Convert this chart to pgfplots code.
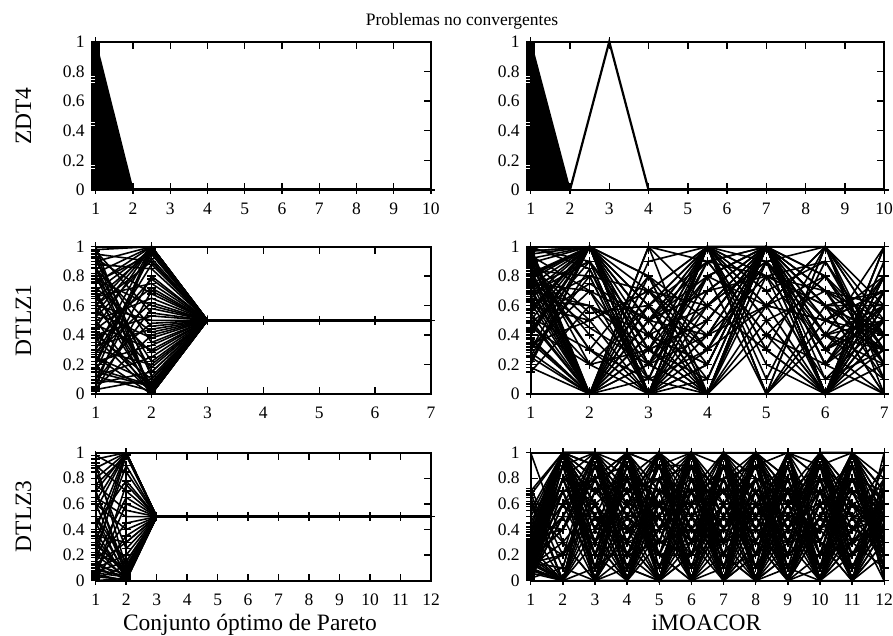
\documentclass[border=0pt]{standalone}
\usepackage{fontspec}
\setmainfont{Liberation Serif}
\usepackage{pgfplots}
\usepackage{pgfplotstable}
\pgfplotsset{compat=1.18}

% ---------- solutions, one row per solution, one column per objective ----------
% DTLZ1, Pareto-optimal set: objectives 1 and 2 (objectives 3..7 are all 0.5)
\pgfplotstableread[header=false]{
.98 1 .5
.9 1 .5
.82 1 .5
.75 1 .5
.6 1 .5
.45 1 .5
.3 1 .5
.15 1 .5
.05 1 .5
.55 .99 .5
.7 .98 .5
.2 .97 .5
1 0 .5
.93 0 .5
.85 .01 .5
.7 0 .5
.62 .02 .5
.5 0 .5
.38 .01 .5
.25 0 .5
.12 .02 .5
0 0 .5
.8 .03 .5
.42 .04 .5
.95 .9 .5
.88 .85 .5
.1 .8 .5
.35 .78 .5
.66 .75 .5
.02 .7 .5
.92 .68 .5
.5 .65 .5
.28 .62 .5
.78 .6 .5
.08 .58 .5
.97 .55 .5
.4 .53 .5
.6 .5 .5
.18 .48 .5
.85 .46 .5
.33 .44 .5
.72 .42 .5
.04 .4 .5
.55 .38 .5
.9 .35 .5
.22 .33 .5
.47 .3 .5
.65 .28 .5
.12 .25 .5
.8 .22 .5
.3 .2 .5
.58 .18 .5
.07 .15 .5
.95 .12 .5
.4 .1 .5
.25 .08 .5
.68 .06 .5
.15 .05 .5
.52 .92 .5
.27 .88 .5
.76 .95 .5
.44 .72 .5
.86 .15 .5
.6 .9 .5
.03 .1 .5
.09 .07 .5
.17 .06 .5
.22 .95 .5
.65 .97 .5
}\dtlzAopt
\pgfplotstabletranspose\dtlzAoptT\dtlzAopt

% DTLZ3, Pareto-optimal set: objectives 1 and 2 (objectives 3..12 are all 0.5)
\pgfplotstableread[header=false]{
.95 1 .5
.88 1 .5
.8 1 .5
.7 1 .5
.62 1 .5
.55 1 .5
.4 1 .5
.3 .99 .5
.2 .98 .5
.75 .98 .5
0 .02 .5
.03 .01 .5
.06 .03 .5
.1 .02 .5
.15 0 .5
.2 .03 .5
.25 .01 .5
.3 .04 .5
.38 .02 .5
.45 .05 .5
.5 .03 .5
.6 .06 .5
.7 .04 .5
.05 0 .5
.12 .05 .5
.08 .04 .5
.98 .85 .5
.9 .7 .5
.05 .6 .5
.75 .55 .5
.15 .45 .5
.6 .4 .5
.02 .35 .5
.35 .3 .5
.85 .25 .5
.1 .2 .5
.5 .15 .5
.92 .1 .5
.25 .9 .5
.45 .78 .5
.18 .65 .5
.65 .5 .5
.01 .12 .5
.7 .08 .5
.33 .05 .5
.04 .75 .5
.22 .1 .5
.13 .3 .5
.07 .15 .5
.28 .08 .5
}\dtlzCopt
\pgfplotstabletranspose\dtlzCoptT\dtlzCopt

% DTLZ1, iMOACOR (7 objectives)
\pgfplotstableread[header=false]{
1 0 .6 1 .2 0 .7
.95 1 0 .5 1 0 .3
.9 .3 .8 0 1 .6 0
.85 0 .4 1 .9 0 1
.8 1 0 .2 1 .4 .5
.75 .7 .5 1 0 1 .2
.7 0 1 .6 .3 0 .8
.65 1 .2 0 1 .5 .4
.6 .5 0 1 .6 0 1
.55 0 .7 .3 1 .2 0
.5 1 .3 .8 0 1 .6
.45 .2 0 1 .5 .7 .1
.4 1 .6 0 .8 0 .7
.35 0 .1 1 1 .3 .5
.3 .8 0 .4 1 0 .9
.25 0 .5 1 .1 .9 .3
.2 1 0 .7 1 .6 0
.15 .6 .4 0 1 0 .6
0 0 1 .9 .4 0 .4
1 .85 0 .1 1 .8 .2
.98 0 .3 1 0 .4 1
.92 1 .7 .2 1 0 .5
.88 .4 0 1 .7 .1 .3
.83 0 .8 .5 1 0 .7
.78 1 .1 0 .9 1 0
.72 0 .6 1 .5 0 .6
.68 .9 0 .3 1 .2 .8
.62 0 .2 1 .8 .6 .3
.58 1 .5 0 1 0 .4
.52 .3 0 .8 .6 1 .1
.48 0 .9 1 0 .5 .7
.42 1 0 .6 1 0 .5
.38 0 .4 .2 1 .7 .2
.32 .7 0 1 .3 0 .9
.28 0 .6 .1 1 .3 .6
.22 1 .3 0 .6 1 .4
.18 0 0 1 1 0 .8
.92 0 .5 .9 1 .2 .5
.97 1 0 0 .4 .8 .3
.87 .5 .7 1 1 0 .7
.8 0 0 .4 1 1 .4
.74 1 .8 0 .5 0 .2
.66 0 .3 1 0 .6 .6
.6 .8 0 .7 1 .3 0
.55 1 .2 0 .9 0 1
.5 0 .7 1 .6 .5 .3
.44 .9 0 .5 1 0 .7
.37 0 .4 1 .3 1 .5
.3 1 0 .2 1 .4 .2
.96 0 1 0 1 0 .6
.7 .6 .1 1 .8 .7 .4
.9 0 .5 .4 1 0 .8
.82 1 0 1 .7 .9 .3
.63 .2 .6 0 1 0 .5
.4 1 0 .8 1 .6 .7
.99 .9 .3 .5 1 .2 .6
.97 1 .4 .6 .9 .5 .7
.94 .7 .2 .8 1 .4 .3
.91 .55 .6 .3 1 .7 .5
.89 1 .5 .7 .8 .3 .6
.86 .3 .1 .9 1 .6 .4
.84 .8 .7 .4 .6 .8 .2
.81 1 .3 .1 1 .5 .8
.77 .45 .2 .6 .9 .3 .5
.73 .9 .4 .2 1 .6 .3
.69 1 .6 .9 .4 .2 .7
.64 .6 .3 .5 1 .8 .4
.57 1 .8 .3 .9 .4 .6
.49 .75 .5 .7 1 .1 .5
.43 1 .2 .4 .8 .9 .2
.34 .5 .7 .6 1 .3 .8
.26 .85 .1 .3 .6 .5 .3
.2 1 .5 .8 1 .7 .6
.93 .2 .3 0 1 .4 .1
.76 0 .2 .9 .8 .6 .4
}\dtlzAimo
\pgfplotstabletranspose\dtlzAimoT\dtlzAimo

% DTLZ3, iMOACOR (12 objectives)
\pgfplotstableread[header=false]{
.05 1 0 1 .3 1 0 .8 .2 1 0 .6
.1 1 .5 0 1 0 1 0 .7 0 1 .3
.2 .8 1 .4 0 1 .6 1 0 .5 1 0
0 1 0 1 .6 0 1 .2 1 0 .4 .8
.15 0 1 0 1 .7 0 1 .4 1 0 .5
.3 1 .2 .8 0 1 .3 0 1 .2 1 .4
.02 .6 1 0 .5 0 1 .6 0 1 .7 .2
.25 1 0 .6 1 .4 0 1 .5 0 1 .7
.08 .2 .7 1 0 1 .5 0 1 .6 0 1
.12 1 1 .2 .8 0 1 .4 0 1 .3 .1
.65 0 .4 1 0 .6 0 1 .8 0 1 .5
.04 1 0 0 1 1 .4 0 .3 1 .5 0
.18 .4 1 .7 0 .2 1 .8 0 .4 1 .6
.7 1 .3 0 .7 1 0 .3 1 0 .6 .3
.06 0 1 1 .2 0 .8 1 0 .7 0 .8
.22 1 .6 0 1 .5 0 0 .6 1 .2 .4
.01 .9 0 .5 0 1 .7 1 .1 0 1 .2
.35 1 .8 1 .4 0 1 .5 0 .8 0 .7
.1 0 .3 0 1 .8 0 1 .7 0 1 0
1 .3 0 .8 0 1 .2 0 1 .3 .8 .5
.14 1 1 0 .6 0 1 .7 0 1 0 .3
.03 .7 0 1 1 .3 0 .2 1 0 .5 .9
.28 1 .5 .3 0 1 .9 0 .4 1 1 .1
.6 0 1 0 .8 .4 0 1 0 .6 0 .6
.09 1 .1 1 0 0 .6 .9 1 0 .3 .4
.2 .5 1 .6 1 .7 0 0 .5 1 .7 .2
.05 1 0 .2 .3 1 1 .4 0 .2 1 .7
.4 0 .7 1 0 .5 .3 1 .6 0 .4 .5
.16 1 1 0 1 0 .2 0 1 .9 0 .3
.68 .1 0 .4 .5 1 0 .6 .2 1 1 .8
.07 1 .4 1 0 .3 1 0 .9 0 .6 .1
.26 0 1 .9 .6 0 .5 1 0 .5 1 .6
.02 .8 .2 0 1 1 0 .7 .3 1 .1 .4
.32 1 .9 .3 0 .6 1 .1 1 0 .9 0
.11 .3 0 1 .7 0 .4 1 .7 .3 0 .7
.5 1 .6 0 .4 1 0 .3 0 1 .5 .2
.13 0 1 .5 1 .2 .8 0 .6 0 1 .5
.24 1 0 1 .1 .8 0 1 .4 .7 0 .8
.03 .6 .8 0 0 1 .3 .5 1 0 .8 .3
.38 1 .3 .7 1 0 1 0 .2 1 .2 .6
.08 0 0 1 .5 .9 0 .8 0 .4 1 .1
.19 1 1 .1 0 .4 .7 1 .8 0 .3 .9
.72 .2 .5 1 .9 0 0 .4 1 .8 0 .4
.06 1 0 .4 1 .6 1 0 .5 1 .6 .3
.3 .9 1 0 .3 1 .1 .6 0 .1 1 .5
.15 0 .6 .8 0 0 1 1 .7 .5 0 .2
.01 1 .2 1 .7 .1 .5 0 1 0 .7 .6
.45 .4 1 .2 0 .9 0 .2 .4 1 1 .3
.1 1 0 0 1 .3 .9 .7 0 .6 .1 .7
.21 0 .8 1 .2 1 0 1 .3 0 .5 .4
.04 1 1 .5 .6 0 .6 0 1 .2 1 0
.33 .7 0 1 0 .7 1 .3 0 1 .3 .5
.17 1 .4 0 1 0 .3 1 .6 .3 0 .8
.62 0 1 .3 .4 1 0 .5 1 0 .9 .2
.07 1 .7 1 0 .5 1 0 .2 1 .4 .6
.27 .5 0 0 .8 1 .4 .9 0 .5 1 .3
.12 1 .9 .6 1 0 0 .6 .9 0 .2 .5
.02 .1 1 1 .5 .2 1 0 .1 .9 1 .7
.36 1 0 .9 0 .8 .2 1 .5 0 0 .4
.09 0 .5 0 1 .4 .7 .1 1 .4 .8 .1
.23 1 1 .7 .2 0 1 .8 0 1 .1 .6
.05 .8 .3 1 .9 1 0 0 .8 .1 1 .3
.42 1 0 .1 0 .6 .9 .5 0 .7 .5 .5
.14 .2 1 .8 1 0 .1 1 .4 0 1 .2
.55 1 .6 0 .6 1 .6 0 1 .8 0 .7
.18 0 .1 1 0 .2 1 .4 .7 1 .6 .4
.02 1 .3 .6 .2 .7 .4 .3 .8 .2 .6 .4
.11 .9 .5 .2 .8 .3 .6 .9 .3 .7 .2 .5
.26 1 .7 .4 .5 .9 .2 .6 .5 .4 .8 .3
.04 .7 .2 .9 .4 .6 .8 .1 .6 .9 .3 .6
.19 1 .6 .3 .9 .2 .5 .8 .2 .5 .9 .2
.33 .4 .9 .6 .1 .8 .3 .5 .7 .2 .4 .7
.07 1 .4 .8 .7 .5 .1 .7 .4 .8 .6 .5
.15 .8 .1 .5 .3 .9 .7 .2 .9 .3 .1 .4
.01 1 .8 .2 .6 .4 .9 .4 .1 .6 .7 .6
.24 .6 .3 .7 .9 .1 .4 .8 .6 .1 .9 .3
.09 1 .6 .1 .4 .7 .8 .3 .7 .9 .2 .7
.4 .9 .2 .9 .6 .3 .5 .9 .3 .4 .8 .2
.13 1 .5 .4 .2 .8 .2 .6 .8 .7 .4 .5
.03 .5 .9 .7 .8 .2 .6 .1 .4 .3 .9 .6
.29 1 .1 .3 .7 .6 .9 .5 .2 .8 .3 .4
.06 .8 .7 .8 .3 .4 .3 .7 .9 .1 .6 .3
.17 1 .4 .5 .9 .9 .1 .2 .5 .6 .8 .7
.58 .3 .6 .2 .5 .1 .8 .9 .7 .3 .2 .4
.1 1 .2 .6 .1 .5 .7 .4 .3 .9 .5 .6
.2 .7 .8 .4 .6 .8 .4 .8 .1 .5 .7 .2
.05 1 .3 .9 .3 .2 .6 .2 .8 .2 .3 .5
.35 .2 .6 .1 .8 .7 .2 .6 .6 .7 .9 .3
.08 1 .9 .5 .2 .3 .8 .3 .2 .4 .1 .6
.22 .6 .1 .8 .4 .9 .5 .9 .4 .8 .6 .4
.12 1 .5 .3 .9 .4 .3 .4 .9 .1 .4 .7
.03 .9 .7 .6 .5 .1 .9 .6 .3 .6 .8 .3
.45 1 .2 .2 .7 .6 .1 .8 .7 .3 .2 .5
.16 .4 .8 .9 .1 .8 .6 .1 .5 .9 .7 .4
.27 1 .4 .7 .6 .3 .4 .7 .1 .5 .3 .6
.06 .8 .6 .3 .9 .5 .7 .5 .8 .2 .9 .2
.67 1 0 .9 .2 .2 .9 .2 .6 .8 .1 .5
.14 .1 .9 .1 .6 .7 .3 .9 .2 .4 .6 .7
.31 1 .3 .6 .8 .9 .5 .3 .7 .7 .4 .3
.02 .5 .5 .4 .3 .4 .2 .6 .5 .1 .8 .5
}\dtlzCimo
\pgfplotstabletranspose\dtlzCimoT\dtlzCimo

\pgfplotsset{
  pcoord/.style={
    scale only axis, anchor=south west,
    xmin=1, ymin=0, ymax=1,
    clip=false,
    axis line style={line width=0.9pt},
    major tick style={line width=0.7pt, black},
    major tick length=3.5pt,
    tick align=inside,
    xtick pos=both, ytick pos=both,
    ytick={0,0.2,0.4,0.6,0.8,1},
    /pgf/number format/assume math mode=true,
    /pgf/number format/fixed,
    tick label style={font=\fontsize{8.75}{10}\selectfont, inner sep=0pt},
    xticklabel style={anchor=base, yshift=-12.2pt},
    yticklabel style={anchor=east, xshift=-5.3pt},
  },
  pline/.style={black, line width=0.8pt, mark=+, mark size=2.2pt,
    mark options={solid, line width=0.7pt}, empty line=jump},
  tail/.style={pline, line width=1.5pt},
}

\begin{document}
\begin{tikzpicture}
\useasboundingbox (0,0) rectangle (446.5pt,318pt);

% ---------------- ZDT4 ----------------
\begin{axis}[pcoord, at={(47.85pt,223pt)}, width=167.65pt, height=74.15pt,
  xmax=10, xtick={1,...,10}]
\addplot[pline] coordinates {
(1,0)(2,0)(1,.01)(2,0)(1,.02)(2,0)(1,.03)(2,0)(1,.04)(2,0)(1,.05)(2,0)(1,.06)(2,0)(1,.07)(2,0)(1,.08)(2,0)(1,.09)(2,0)
(1,.1)(2,0)(1,.11)(2,0)(1,.12)(2,0)(1,.13)(2,0)(1,.14)(2,0)(1,.15)(2,0)(1,.16)(2,0)(1,.17)(2,0)(1,.18)(2,0)(1,.19)(2,0)
(1,.2)(2,0)(1,.21)(2,0)(1,.22)(2,0)(1,.23)(2,0)(1,.24)(2,0)(1,.25)(2,0)(1,.26)(2,0)(1,.27)(2,0)(1,.28)(2,0)(1,.29)(2,0)
(1,.3)(2,0)(1,.31)(2,0)(1,.32)(2,0)(1,.33)(2,0)(1,.34)(2,0)(1,.35)(2,0)(1,.36)(2,0)(1,.37)(2,0)(1,.38)(2,0)(1,.39)(2,0)
(1,.4)(2,0)(1,.41)(2,0)(1,.42)(2,0)(1,.43)(2,0)(1,.44)(2,0)(1,.45)(2,0)(1,.46)(2,0)(1,.47)(2,0)(1,.48)(2,0)(1,.49)(2,0)
(1,.5)(2,0)(1,.51)(2,0)(1,.52)(2,0)(1,.53)(2,0)(1,.54)(2,0)(1,.55)(2,0)(1,.56)(2,0)(1,.57)(2,0)(1,.58)(2,0)(1,.59)(2,0)
(1,.6)(2,0)(1,.61)(2,0)(1,.62)(2,0)(1,.63)(2,0)(1,.64)(2,0)(1,.65)(2,0)(1,.66)(2,0)(1,.67)(2,0)(1,.68)(2,0)(1,.69)(2,0)
(1,.7)(2,0)(1,.71)(2,0)(1,.72)(2,0)(1,.73)(2,0)(1,.74)(2,0)(1,.75)(2,0)(1,.76)(2,0)(1,.77)(2,0)(1,.78)(2,0)(1,.79)(2,0)
(1,.8)(2,0)(1,.81)(2,0)(1,.82)(2,0)(1,.83)(2,0)(1,.84)(2,0)(1,.85)(2,0)(1,.86)(2,0)(1,.87)(2,0)(1,.88)(2,0)(1,.89)(2,0)
(1,.9)(2,0)(1,.91)(2,0)(1,.92)(2,0)(1,.93)(2,0)(1,.94)(2,0)(1,.95)(2,0)(1,.96)(2,0)(1,.97)(2,0)(1,.98)(2,0)(1,.99)(2,0)
(1,1)(2,0)
};
\addplot[tail] coordinates {(2,0)(3,0)(4,0)(5,0)(6,0)(7,0)(8,0)(9,0)(10,0)};
\end{axis}

\begin{axis}[pcoord, at={(265.35pt,223pt)}, width=176.75pt, height=74.15pt,
  xmax=10, xtick={1,...,10}]
\addplot[pline] coordinates {
(1,0)(2,0)(1,.01)(2,0)(1,.02)(2,0)(1,.03)(2,0)(1,.04)(2,0)(1,.05)(2,0)(1,.06)(2,0)(1,.07)(2,0)(1,.08)(2,0)(1,.09)(2,0)
(1,.1)(2,0)(1,.11)(2,0)(1,.12)(2,0)(1,.13)(2,0)(1,.14)(2,0)(1,.15)(2,0)(1,.16)(2,0)(1,.17)(2,0)(1,.18)(2,0)(1,.19)(2,0)
(1,.2)(2,0)(1,.21)(2,0)(1,.22)(2,0)(1,.23)(2,0)(1,.24)(2,0)(1,.25)(2,0)(1,.26)(2,0)(1,.27)(2,0)(1,.28)(2,0)(1,.29)(2,0)
(1,.3)(2,0)(1,.31)(2,0)(1,.32)(2,0)(1,.33)(2,0)(1,.34)(2,0)(1,.35)(2,0)(1,.36)(2,0)(1,.37)(2,0)(1,.38)(2,0)(1,.39)(2,0)
(1,.4)(2,0)(1,.41)(2,0)(1,.42)(2,0)(1,.43)(2,0)(1,.44)(2,0)(1,.45)(2,0)(1,.46)(2,0)(1,.47)(2,0)(1,.48)(2,0)(1,.49)(2,0)
(1,.5)(2,0)(1,.51)(2,0)(1,.52)(2,0)(1,.53)(2,0)(1,.54)(2,0)(1,.55)(2,0)(1,.56)(2,0)(1,.57)(2,0)(1,.58)(2,0)(1,.59)(2,0)
(1,.6)(2,0)(1,.61)(2,0)(1,.62)(2,0)(1,.63)(2,0)(1,.64)(2,0)(1,.65)(2,0)(1,.66)(2,0)(1,.67)(2,0)(1,.68)(2,0)(1,.69)(2,0)
(1,.7)(2,0)(1,.71)(2,0)(1,.72)(2,0)(1,.73)(2,0)(1,.74)(2,0)(1,.75)(2,0)(1,.76)(2,0)(1,.77)(2,0)(1,.78)(2,0)(1,.79)(2,0)
(1,.8)(2,0)(1,.81)(2,0)(1,.82)(2,0)(1,.83)(2,0)(1,.84)(2,0)(1,.85)(2,0)(1,.86)(2,0)(1,.87)(2,0)(1,.88)(2,0)(1,.89)(2,0)
(1,.9)(2,0)(1,.91)(2,0)(1,.92)(2,0)(1,.93)(2,0)(1,.94)(2,0)(1,.95)(2,0)(1,.96)(2,0)(1,.97)(2,0)(1,.98)(2,0)(1,.99)(2,0)
(1,1)(2,0)
};
\addplot[pline, line width=1.1pt] coordinates {(2,0)(3,1)(4,0)};
\addplot[tail] coordinates {(4,0)(5,0)(6,0)(7,0)(8,0)(9,0)(10,0)};
\end{axis}

% ---------------- DTLZ1 ----------------
\begin{axis}[pcoord, at={(47.85pt,121pt)}, width=167.65pt, height=73.65pt,
  xmax=7, xtick={1,...,7}]
\pgfplotsinvokeforeach{1,...,69}{
  \addplot[pline] table[x expr=\coordindex+1, y index=#1] {\dtlzAoptT};
}
\addplot[tail] coordinates {(3,.5)(4,.5)(5,.5)(6,.5)(7,.5)};
\end{axis}

\begin{axis}[pcoord, at={(265.35pt,121pt)}, width=176.75pt, height=73.65pt,
  xmax=7, xtick={1,...,7}]
\pgfplotsinvokeforeach{1,...,75}{
  \addplot[pline] table[x expr=\coordindex+1, y index=#1] {\dtlzAimoT};
}
\end{axis}

% ---------------- DTLZ3 ----------------
\begin{axis}[pcoord, at={(47.85pt,27.65pt)}, width=167.65pt, height=64pt,
  xmax=12, xtick={1,...,12}]
\pgfplotsinvokeforeach{1,...,50}{
  \addplot[pline] table[x expr=\coordindex+1, y index=#1] {\dtlzCoptT};
}
\addplot[tail, line width=1.3pt] coordinates {(3,.5)(4,.5)(5,.5)(6,.5)(7,.5)(8,.5)(9,.5)(10,.5)(11,.5)(12,.5)};
\addplot[pline] coordinates {(4,.5)(5,.506)(6,.506)(7,.504)(8,.5)};
\end{axis}

\begin{axis}[pcoord, at={(265.35pt,27.65pt)}, width=176.75pt, height=64pt,
  xmax=12, xtick={1,...,12}]
\pgfplotsinvokeforeach{1,...,100}{
  \addplot[pline] table[x expr=\coordindex+1, y index=#1] {\dtlzCimoT};
}
\end{axis}

% ---------------- titles and labels ----------------
\node[anchor=base, font=\fontsize{8.75}{10}\selectfont] at (231pt,305pt) {Problemas no convergentes};
\node[rotate=90, font=\fontsize{11.75}{14}\selectfont] at (11.75pt,260pt) {ZDT4};
\node[rotate=90, font=\fontsize{11.75}{14}\selectfont] at (11.75pt,157.8pt) {DTLZ1};
\node[rotate=90, font=\fontsize{11.75}{14}\selectfont] at (11.75pt,59.8pt) {DTLZ3};
\node[anchor=base, font=\fontsize{11.75}{14}\selectfont] at (125pt,2.8pt) {Conjunto óptimo de Pareto};
\node[anchor=base, font=\fontsize{11.75}{14}\selectfont] at (353.25pt,2.8pt) {iMOACOR};
\end{tikzpicture}
\end{document}
